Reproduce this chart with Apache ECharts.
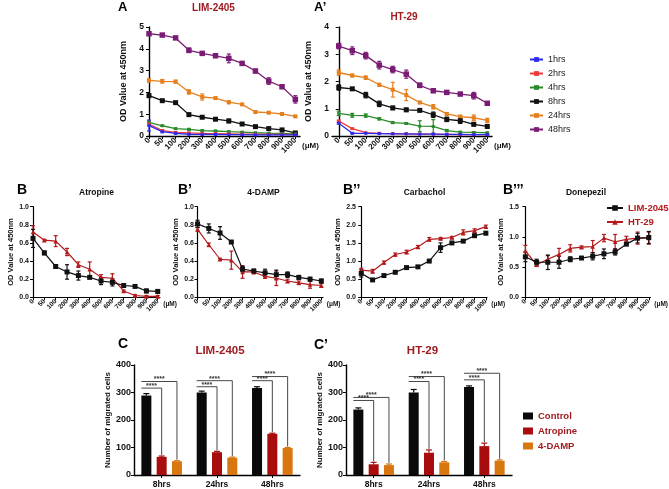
<!DOCTYPE html>
<html><head><meta charset="utf-8">
<script src="https://cdn.jsdelivr.net/npm/echarts@6/dist/echarts.min.js"></script>
<style>html,body{margin:0;padding:0;background:#fff}#c{width:669px;height:489px}</style>
</head><body><div id="c"></div>
<script>
// ---------- DATA ----------
const concCats = ['0','50','100','200','300','400','500','600','700','800','900','1000'];
const hrsNames = ['1hrs','2hrs','4hrs','8hrs','24hrs','48hrs'];

// Panel A  (LIM-2405)
const limA_1hrs  = [0.48,0.20,0.12,0.08,0.07,0.07,0.06,0.06,0.05,0.05,0.05,0.05];
const limA_2hrs  = [0.55,0.25,0.17,0.14,0.12,0.11,0.10,0.09,0.08,0.07,0.07,0.06];
const limA_4hrs  = [0.63,0.47,0.34,0.30,0.25,0.23,0.20,0.18,0.15,0.13,0.12,0.10];
const limA_8hrs  = [1.85,1.62,1.53,0.98,0.86,0.77,0.69,0.55,0.43,0.34,0.28,0.14];
const limA_24hrs = [2.55,2.51,2.49,2.02,1.79,1.74,1.55,1.45,1.10,1.07,1.01,0.90];
const limA_48hrs = [4.69,4.63,4.50,3.93,3.79,3.68,3.56,3.33,2.98,2.52,2.26,1.68];
const limA_1hrs_err  = [0.25,0.05,0.03,0.02,0.02,0.02,0.01,0.01,0.01,0.01,0.01,0.01];
const limA_2hrs_err  = [0.08,0.04,0.03,0.02,0.02,0.02,0.01,0.01,0.01,0.01,0.01,0.01];
const limA_4hrs_err  = [0.05,0.03,0.03,0.05,0.03,0.03,0.03,0.02,0.02,0.02,0.02,0.02];
const limA_8hrs_err  = [0.07,0.04,0.03,0.06,0.04,0.05,0.08,0.05,0.04,0.03,0.03,0.03];
const limA_24hrs_err = [0.08,0.08,0.07,0.10,0.14,0.05,0.07,0.04,0.04,0.04,0.04,0.04];
const limA_48hrs_err = [0.04,0.05,0.05,0.10,0.05,0.05,0.20,0.08,0.08,0.15,0.08,0.17];

// Panel A'  (HT-29)
const htA_1hrs  = [0.47,0.10,0.10,0.09,0.08,0.08,0.07,0.07,0.06,0.06,0.05,0.05];
const htA_2hrs  = [0.55,0.27,0.12,0.10,0.09,0.08,0.07,0.07,0.06,0.05,0.05,0.05];
const htA_4hrs  = [0.83,0.76,0.75,0.63,0.49,0.46,0.36,0.35,0.20,0.14,0.13,0.12];
const htA_8hrs  = [1.78,1.73,1.50,1.18,1.03,0.96,0.94,0.78,0.61,0.56,0.43,0.35];
const htA_24hrs = [2.33,2.22,2.14,1.88,1.70,1.50,1.23,1.07,0.81,0.71,0.67,0.57];
const htA_48hrs = [3.30,3.13,2.95,2.60,2.44,2.27,1.86,1.66,1.60,1.54,1.48,1.20];
const htA_1hrs_err  = [0.03,0.02,0.01,0.01,0.01,0.01,0.01,0.01,0.01,0.01,0.01,0.01];
const htA_2hrs_err  = [0.03,0.02,0.01,0.01,0.01,0.01,0.01,0.01,0.01,0.01,0.01,0.01];
const htA_4hrs_err  = [0.08,0.07,0.06,0.04,0.03,0.03,0.20,0.25,0.04,0.03,0.03,0.02];
const htA_8hrs_err  = [0.10,0.05,0.10,0.10,0.06,0.06,0.04,0.10,0.08,0.10,0.06,0.05];
const htA_24hrs_err = [0.10,0.05,0.06,0.05,0.27,0.20,0.04,0.08,0.05,0.05,0.10,0.08];
const htA_48hrs_err = [0.10,0.14,0.12,0.14,0.12,0.15,0.08,0.06,0.05,0.05,0.12,0.05];

// Panel B row (LIM-2045 / HT-29)
const atro_lim = [0.65,0.49,0.34,0.28,0.24,0.22,0.18,0.165,0.13,0.12,0.07,0.065];
const atro_lim_err = [0.10,0.02,0.01,0.08,0.05,0.01,0.04,0.04,0.01,0.01,0.02,0.02];
const atro_ht = [0.72,0.63,0.62,0.50,0.36,0.31,0.22,0.21,0.07,0.02,0.01,0.01];
const atro_ht_err = [0.07,0.01,0.06,0.04,0.03,0.08,0.03,0.05,0.01,0.01,0.01,0.01];
const damp_lim = [0.81,0.76,0.71,0.61,0.31,0.29,0.27,0.25,0.25,0.22,0.20,0.18];
const damp_lim_err = [0.04,0.05,0.07,0.01,0.03,0.02,0.04,0.05,0.03,0.02,0.02,0.02];
const damp_ht = [0.75,0.58,0.42,0.41,0.28,0.28,0.23,0.21,0.18,0.16,0.14,0.13];
const damp_ht_err = [0.02,0.02,0.01,0.10,0.07,0.02,0.02,0.08,0.02,0.02,0.04,0.02];
const carb_lim = [0.66,0.48,0.60,0.69,0.82,0.84,1.00,1.37,1.50,1.55,1.70,1.77];
const carb_lim_err = [0.10,0.02,0.02,0.02,0.02,0.02,0.02,0.13,0.03,0.03,0.04,0.04];
const carb_ht = [0.75,0.72,0.96,1.18,1.25,1.39,1.60,1.62,1.65,1.79,1.84,1.95];
const carb_ht_err = [0.05,0.05,0.04,0.04,0.05,0.04,0.05,0.03,0.03,0.07,0.05,0.04];
const done_lim = [0.67,0.58,0.58,0.58,0.63,0.65,0.68,0.72,0.75,0.88,0.98,0.99];
const done_lim_err = [0.08,0.05,0.12,0.10,0.04,0.02,0.06,0.08,0.05,0.02,0.08,0.10];
const done_ht = [0.77,0.54,0.63,0.71,0.81,0.83,0.84,0.98,0.92,0.96,0.98,0.98];
const done_ht_err = [0.09,0.03,0.06,0.10,0.06,0.02,0.10,0.06,0.12,0.05,0.10,0.10];

// Panel C row (migration)
const migCats = ['8hrs','24hrs','48hrs'];
const treatNames = ['Control','Atropine','4-DAMP'];
const limC_control = [289,300,316];
const limC_atropine = [66,83,150];
const limC_damp = [50,63,98];
const limC_control_err = [7,5,5];
const limC_atropine_err = [3,3,2];
const limC_damp_err = [2,2,2];
const htC_control = [238,300,320];
const htC_atropine = [39,81,105];
const htC_damp = [36,46,52];
const htC_control_err = [6,11,4];
const htC_atropine_err = [7,10,11];
const htC_damp_err = [4,3,3];
// significance bracket heights (y value of the bracket line)
const limC_sigAtro = [316,321,343];
const limC_sigDamp = [340,343,358];
const htC_sigAtro = [271,340,346];
const htC_sigDamp = [282,358,370];
const sigLabel = '****';

// ---------- STYLE ----------
const FONT = "Arial, 'Liberation Sans', sans-serif";
const DARKRED = '#9e1b20';
const COL = {'1hrs':'#2b2bf0','2hrs':'#f23a3a','4hrs':'#2b8a2b','8hrs':'#111111','24hrs':'#e6801e','48hrs':'#7b1c74'};
const SYM = {'1hrs':3,'2hrs':3,'4hrs':3,'8hrs':5,'24hrs':4,'48hrs':5.5};
const B_BLACK = '#111111', B_RED = '#b3191d';
const C_COL = ['#0a0a0a','#a80c0c','#d8760f'];

const grids=[], xAxes=[], yAxes=[], series=[];
const idxs = concCats.map((_,i)=>i);

function addLinePanel(o){
  const g = grids.length;
  grids.push({left:o.left, top:o.top, width:o.width, height:o.height});
  xAxes.push({type:'value', gridIndex:g, min:o.xmin, max:o.xmax,
    axisLine:{show:true, onZero:false, lineStyle:{color:'#000', width:o.lw}},
    axisTick:{show:true, length:3, customValues:idxs, lineStyle:{color:'#000', width:1}},
    axisLabel:{show:true, customValues:idxs, formatter:(v)=>concCats[Math.round(v)], rotate:45,
      fontSize:o.xfs, fontWeight:'bold', color:'#111', margin:3, fontFamily:FONT},
    splitLine:{show:false},
    name:'(μM)', nameLocation:'end', nameGap:2,
    nameTextStyle:{fontSize:o.xfs, fontWeight:'bold', color:'#111', fontFamily:FONT, verticalAlign:'top', padding:[o.unitPad,0,0,0]}
  });
  yAxes.push({type:'value', gridIndex:g, min:0, max:o.ymax, interval:o.yint,
    axisLine:{show:true, lineStyle:{color:'#000', width:o.lw}},
    axisTick:{show:true, length:3, lineStyle:{color:'#000', width:1}},
    axisLabel:{fontSize:o.yfs, fontWeight:'bold', color:'#111', margin:3, fontFamily:FONT, formatter:o.yfmt},
    splitLine:{show:false},
    name:'OD Value at 450nm', nameLocation:'middle', nameGap:o.nameGap,
    nameTextStyle:{fontSize:o.nfs, fontWeight:'bold', color:'#111', fontFamily:FONT}
  });
  return g;
}

function lineSeries(g, name, vals, color, sym, size, lw){
  series.push({type:'line', name, xAxisIndex:g, yAxisIndex:g, z:4,
    data: vals.map((v,i)=>[i,v]), symbol:sym, symbolSize:size,
    lineStyle:{color, width:lw}, itemStyle:{color}, animation:false});
}
function errSeries(g, vals, errs, color, cap, lw){
  series.push({type:'custom', xAxisIndex:g, yAxisIndex:g, z:3, silent:true, animation:false,
    data: vals.map((v,i)=>[i, v-errs[i], v+errs[i]]),
    renderItem:(p, api)=>{
      const lo = api.coord([api.value(0), api.value(1)]);
      const hi = api.coord([api.value(0), api.value(2)]);
      const st = {stroke:color, lineWidth:lw};
      return {type:'group', children:[
        {type:'line', shape:{x1:lo[0],y1:lo[1],x2:hi[0],y2:hi[1]}, style:st},
        {type:'line', shape:{x1:lo[0]-cap,y1:lo[1],x2:lo[0]+cap,y2:lo[1]}, style:st},
        {type:'line', shape:{x1:hi[0]-cap,y1:hi[1],x2:hi[0]+cap,y2:hi[1]}, style:st}
      ]};
    }});
}

// ---- Panel A and A'
const aCommon = {top:27, height:109, lw:1.4, xfs:8, yfs:8.5, nfs:9, unitPad:6, yint:1, yfmt:(v)=>String(v)};
const gA = addLinePanel(Object.assign({}, aCommon, {left:147, width:153, xmin:-0.15, xmax:11.35, ymax:5, nameGap:19}));
const gA2 = addLinePanel(Object.assign({}, aCommon, {left:332, width:160, xmin:-0.5, xmax:11.35, ymax:4, nameGap:19}));
const limA = {'1hrs':[limA_1hrs,limA_1hrs_err],'2hrs':[limA_2hrs,limA_2hrs_err],'4hrs':[limA_4hrs,limA_4hrs_err],
  '8hrs':[limA_8hrs,limA_8hrs_err],'24hrs':[limA_24hrs,limA_24hrs_err],'48hrs':[limA_48hrs,limA_48hrs_err]};
const htA = {'1hrs':[htA_1hrs,htA_1hrs_err],'2hrs':[htA_2hrs,htA_2hrs_err],'4hrs':[htA_4hrs,htA_4hrs_err],
  '8hrs':[htA_8hrs,htA_8hrs_err],'24hrs':[htA_24hrs,htA_24hrs_err],'48hrs':[htA_48hrs,htA_48hrs_err]};
[[gA,limA],[gA2,htA]].forEach(([g,d])=>{
  hrsNames.slice().reverse().forEach(h=>{
    errSeries(g, d[h][0], d[h][1], COL[h], 2, 1.2);
    lineSeries(g, h, d[h][0], COL[h], 'rect', SYM[h], 1.3);
  });
});

// ---- Panel B row
const bCommon = {top:206.7, height:90.6, lw:1.2, xfs:6.5, yfs:7, nfs:7.5, unitPad:3, nameGap:17};
const f1 = (v)=>v.toFixed(1);
const gB1 = addLinePanel(Object.assign({}, bCommon, {left:32, width:128, xmin:-0.09, xmax:11.2, ymax:1.0, yint:0.2, yfmt:f1}));
const gB2 = addLinePanel(Object.assign({}, bCommon, {left:197, width:126, xmin:-0.05, xmax:11.15, ymax:1.0, yint:0.2, yfmt:f1}));
const gB3 = addLinePanel(Object.assign({}, bCommon, {left:359, width:128, xmin:-0.2, xmax:11.1, ymax:2.5, yint:0.5, yfmt:f1}));
const gB4 = addLinePanel(Object.assign({}, bCommon, {left:522, width:130, xmin:-0.3, xmax:11.15, ymax:1.5, yint:0.5, yfmt:f1}));
[[gB1,atro_lim,atro_lim_err,atro_ht,atro_ht_err],[gB2,damp_lim,damp_lim_err,damp_ht,damp_ht_err],
 [gB3,carb_lim,carb_lim_err,carb_ht,carb_ht_err],[gB4,done_lim,done_lim_err,done_ht,done_ht_err]].forEach(([g,l,le,h,he])=>{
  errSeries(g, h, he, B_RED, 2, 1.2);
  lineSeries(g, 'HT-29', h, B_RED, 'triangle', 4.5, 1.2);
  errSeries(g, l, le, B_BLACK, 2, 1.2);
  lineSeries(g, 'LIM-2045', l, B_BLACK, 'rect', 5, 1.2);
});

// ---- Panel C row
const BW = 10, BG = 5.3; // bar width and gap in px
function addBarPanel(left, ctrl, atro, damp, errs, sigA, sigD){
  const g = grids.length;
  grids.push({left, top:365, width:166, height:110.7});
  xAxes.push({type:'category', gridIndex:g, data:migCats,
    axisLine:{show:true, lineStyle:{color:'#000', width:1.4}},
    axisTick:{show:true, alignWithLabel:true, length:3, lineStyle:{color:'#000'}},
    axisLabel:{fontSize:8.5, fontWeight:'bold', color:'#111', margin:5, fontFamily:FONT}});
  yAxes.push({type:'value', gridIndex:g, min:0, max:400, interval:100,
    axisLine:{show:true, lineStyle:{color:'#000', width:1.4}},
    axisTick:{show:true, length:3, lineStyle:{color:'#000'}},
    axisLabel:{fontSize:9, fontWeight:'bold', color:'#111', margin:3, fontFamily:FONT},
    splitLine:{show:false},
    name:'Number of migrated cells', nameLocation:'middle', nameGap:22,
    nameTextStyle:{fontSize:8, fontWeight:'bold', color:'#111', fontFamily:FONT}});
  const vals=[ctrl,atro,damp];
  vals.forEach((v,k)=>{
    series.push({type:'bar', name:treatNames[k], xAxisIndex:g, yAxisIndex:g, data:v,
      barWidth:BW, barGap:(BG/BW*100)+'%', itemStyle:{color:C_COL[k]}, z:2, animation:false});
  });
  // error bars (upward)
  vals.forEach((v,k)=>{
    const off = (k-1)*(BW+BG);
    series.push({type:'custom', xAxisIndex:g, yAxisIndex:g, z:3, silent:true, animation:false,
      data: v.map((y,i)=>[i, y, y+errs[k][i]]),
      renderItem:(p, api)=>{
        const lo = api.coord([api.value(0), api.value(1)]);
        const hi = api.coord([api.value(0), api.value(2)]);
        const x = lo[0]+off, st={stroke:C_COL[k], lineWidth:1.2};
        return {type:'group', children:[
          {type:'line', shape:{x1:x,y1:lo[1],x2:x,y2:hi[1]}, style:st},
          {type:'line', shape:{x1:x-3,y1:hi[1],x2:x+3,y2:hi[1]}, style:st}]};
      }});
  });
  // significance brackets
  [[sigA,1],[sigD,2]].forEach(([lv,k])=>{
    const top = vals[k].map((y,i)=>y+errs[k][i]);
    series.push({type:'custom', xAxisIndex:g, yAxisIndex:g, z:5, silent:true, animation:false,
      data: lv.map((y,i)=>[i, y, top[i]]),
      renderItem:(p, api)=>{
        const c = api.coord([api.value(0), api.value(1)]);
        const b = api.coord([api.value(0), api.value(2)]);
        const x0 = c[0] - (BW+BG) - BW/2, x1 = c[0] + (k-1)*(BW+BG);
        const st = {stroke:'#333', lineWidth:0.9};
        return {type:'group', children:[
          {type:'line', shape:{x1:x0,y1:c[1],x2:x1,y2:c[1]}, style:st},
          {type:'line', shape:{x1:x1,y1:c[1],x2:x1,y2:b[1]-1}, style:st},
          {type:'text', style:{text:sigLabel, x:(x0+x1)/2, y:c[1]+1.5, textAlign:'center', textVerticalAlign:'bottom',
            font:'bold 7px '+FONT, fill:'#333'}}]};
      }});
  });
}
addBarPanel(134, limC_control, limC_atropine, limC_damp, [limC_control_err,limC_atropine_err,limC_damp_err], limC_sigAtro, limC_sigDamp);
addBarPanel(346, htC_control, htC_atropine, htC_damp, [htC_control_err,htC_atropine_err,htC_damp_err], htC_sigAtro, htC_sigDamp);

// ---------- TEXT ----------
function txt(text, x, y, size, fill, align){
  return {type:'text', x, y, silent:true, style:{text, font:'bold '+size+'px '+FONT, fill:fill||'#000',
    textAlign:align||'left', textVerticalAlign:'middle'}};
}
const graphics = [
  txt('A',118,7,13), txt('LIM-2405',213.5,8.5,10,DARKRED,'center'),
  txt('A’',314,7,13), txt('HT-29',404,17,10,DARKRED,'center'),
  txt('B',17,190,14), txt('Atropine',96.5,192.5,8.5,'#111','center'),
  txt('B’',178,190,14), txt('4-DAMP',263.5,192.5,8.5,'#111','center'),
  txt('B’’',343,190,14), txt('Carbachol',424.5,192.5,8.5,'#111','center'),
  txt('B’’’',503,190,14), txt('Donepezil',586,192.5,8.5,'#111','center'),
  txt('C',118,344,14), txt('LIM-2405',220,350.5,11.5,DARKRED,'center'),
  txt('C’',314,345,14), txt('HT-29',422.5,350.5,11.5,DARKRED,'center')
];

const option = {
  animation:false,
  backgroundColor:'#fff',
  textStyle:{fontFamily:FONT},
  grid:grids, xAxis:xAxes, yAxis:yAxes, series,
  legend:[
    {data:hrsNames, orient:'vertical', left:529, top:55, padding:0, itemWidth:13, itemHeight:6, itemGap:5,
     selectedMode:false, textStyle:{fontSize:9, color:'#222', fontFamily:FONT}},
    {data:['LIM-2045','HT-29'], orient:'vertical', left:606, top:203, padding:0, itemWidth:16, itemHeight:7, itemGap:4,
     selectedMode:false, textStyle:{fontSize:9.5, fontWeight:'bold', color:B_RED, fontFamily:FONT}},
    {data:treatNames, orient:'vertical', left:523, top:411, padding:0, itemWidth:10, itemHeight:7, itemGap:5, icon:'rect',
     selectedMode:false, textStyle:{fontSize:9.5, fontWeight:'bold', color:DARKRED, fontFamily:FONT}}
  ],
  graphic:graphics
};
const chart = echarts.init(document.getElementById('c'));
chart.setOption(option);
</script></body></html>
